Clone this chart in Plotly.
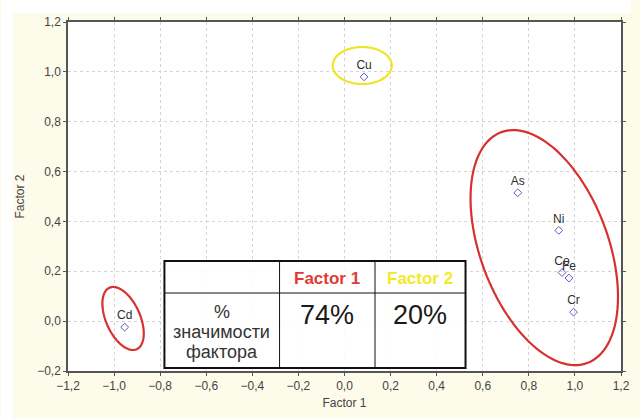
import numpy as np
import plotly.graph_objects as go

# Factor loadings of the elements
elements = ["Cu", "Cd", "As", "Ni", "Co", "Fe", "Cr"]
factor1 = [0.085, -0.954, 0.752, 0.93, 0.944, 0.974, 0.994]
factor2 = [0.98, -0.024, 0.515, 0.364, 0.195, 0.173, 0.036]

# Explained variance table
table_header = ["Factor 1", "Factor 2"]
table_values = ["74%", "20%"]
table_row_label = ["%", "значимости", "фактора"]

x_ticks = [-1.2, -1.0, -0.8, -0.6, -0.4, -0.2, 0.0, 0.2, 0.4, 0.6, 0.8, 1.0, 1.2]
y_ticks = [-0.2, 0.0, 0.2, 0.4, 0.6, 0.8, 1.0, 1.2]

W, H = 640, 418
ML, MR, MT, MB = 68, 10, 22, 47
PW, PH = W - ML - MR, H - MT - MB
XR, YR = (-1.2, 1.2), (-0.2, 1.2)
KX = (XR[1] - XR[0]) / PW   # data units per pixel
KY = (YR[1] - YR[0]) / PH

# Group outlines: centre (data), semi-axes (px), tilt from vertical (deg), colour
groups = [
    dict(cx=0.077, cy=1.0255, a=18.5, b=30.0, tilt=0.0, color="#ece52a"),
    dict(cx=-0.961, cy=0.0107, a=33.7, b=17.3, tilt=24.4, color="#d8302e"),
    dict(cx=0.867, cy=0.295, a=123.4, b=64.8, tilt=21.0, color="#d8302e"),
]


def ellipse_path(g, n=120):
    th = np.radians(g["tilt"])
    t = np.linspace(0, 2 * np.pi, n)
    u = np.array([np.sin(th), np.cos(th)])
    v = np.array([np.cos(th), -np.sin(th)])
    dx = g["a"] * np.cos(t) * u[0] + g["b"] * np.sin(t) * v[0]
    dy = g["a"] * np.cos(t) * u[1] + g["b"] * np.sin(t) * v[1]
    xs = g["cx"] + dx * KX
    ys = g["cy"] - dy * KY
    pts = [f"{x:.5f},{y:.5f}" for x, y in zip(xs, ys)]
    return "M" + " L".join(pts) + " Z"


def px_x(p):
    return (p - ML) / PW


def px_y(p):
    return (H - MB - p) / PH


fig = go.Figure()
fig.add_trace(go.Scatter(
    x=factor1, y=factor2, text=elements,
    mode="markers+text", textposition="top center",
    marker=dict(symbol="diamond-open", size=6, color="#5a5ac0", line=dict(width=1)),
    textfont=dict(family="Liberation Sans, Arial", size=12, color="#2e2e2e"),
    cliponaxis=False, showlegend=False,
))

shapes = [
    # cream page behind the chart, white strips at top and left
    dict(type="rect", xref="paper", yref="paper", x0=px_x(0), x1=px_x(W),
         y0=px_y(13), y1=px_y(0), fillcolor="white", line_width=0, layer="below"),
    dict(type="rect", xref="paper", yref="paper", x0=px_x(0), x1=px_x(12),
         y0=px_y(H), y1=px_y(0), fillcolor="white", line_width=0, layer="below"),
]
for g in groups:
    shapes.append(dict(type="path", xref="x", yref="y", path=ellipse_path(g),
                       line=dict(color=g["color"], width=2.2)))

# table frame
tx0, tx1, ty0, ty1 = 166, 472, 261, 368
col1, col2, row1 = 283, 380, 293
shapes.append(dict(type="rect", xref="paper", yref="paper",
                   x0=px_x(tx0), x1=px_x(tx1), y0=px_y(ty1), y1=px_y(ty0),
                   fillcolor="rgba(255,255,255,0.88)", line=dict(color="#111111", width=2)))
for cx in (col1, col2):
    shapes.append(dict(type="line", xref="paper", yref="paper",
                       x0=px_x(cx), x1=px_x(cx), y0=px_y(ty1), y1=px_y(ty0),
                       line=dict(color="#111111", width=1)))
shapes.append(dict(type="line", xref="paper", yref="paper",
                   x0=px_x(tx0), x1=px_x(tx1), y0=px_y(row1), y1=px_y(row1),
                   line=dict(color="#111111", width=1)))

header_colors = ["#e03a35", "#f2ea28"]
col_centers = [(col1 + col2) / 2, (col2 + tx1) / 2]
annotations = []
centre = dict(xref="paper", yref="paper", xanchor="center", yanchor="middle", showarrow=False)
for name, val, c, xc in zip(table_header, table_values, header_colors, col_centers):
    annotations.append(dict(x=px_x(xc), y=px_y(278), text=f"<b>{name}</b>",
                            font=dict(family="Liberation Sans, Arial", size=17, color=c), **centre))
    annotations.append(dict(x=px_x(xc), y=px_y(315), text=val,
                            font=dict(family="Liberation Sans, Arial", size=27, color="#1a1a1a"), **centre))
for i, line in enumerate(table_row_label):
    annotations.append(dict(x=px_x((tx0 + col1) / 2), y=px_y(312 + 20 * i), text=line,
                            font=dict(family="Liberation Sans, Arial", size=18, color="#333333"), **centre))

axis_common = dict(
    showgrid=True, gridcolor="#d4d4d4", griddash="dot", gridwidth=1,
    zeroline=False, showline=True, linecolor="#555555", linewidth=1.5, mirror="ticks",
    ticks="outside", ticklen=3, tickcolor="#555555", tickformat=".1f",
    tickfont=dict(family="Liberation Sans, Arial", size=12, color="#444444"),
)

fig.update_layout(
    width=W, height=H,
    margin=dict(l=ML, r=MR, t=MT, b=MB),
    paper_bgcolor="#fdfbea", plot_bgcolor="white",
    separators=", ",
    xaxis=dict(range=list(XR), tickvals=x_ticks, **axis_common,
               title=dict(text="Factor 1", standoff=6,
                          font=dict(family="Liberation Sans, Arial", size=12, color="#444444"))),
    yaxis=dict(range=list(YR), tickvals=y_ticks, **axis_common,
               title=dict(text="Factor 2", standoff=10,
                          font=dict(family="Liberation Sans, Arial", size=12, color="#444444"))),
    shapes=shapes, annotations=annotations,
)

fig.write_html("out.html")
